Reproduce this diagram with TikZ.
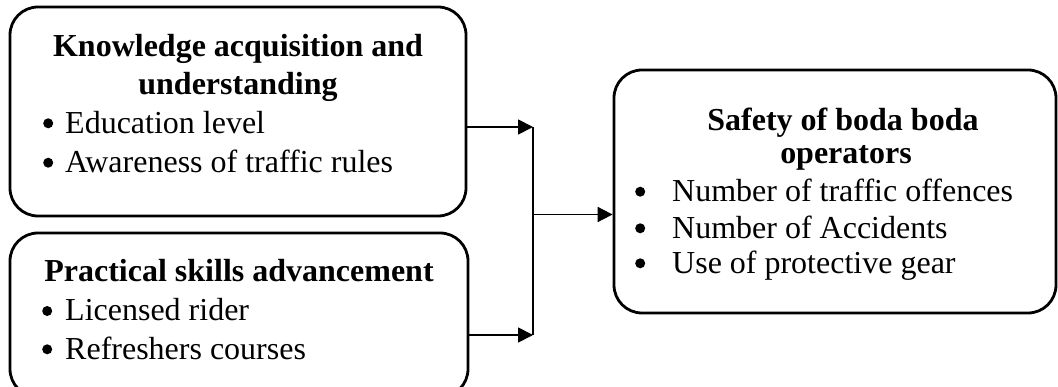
\documentclass[tikz,border=0pt]{standalone}
\usepackage{fontspec}
\setmainfont{Liberation Serif}
\usetikzlibrary{arrows.meta}

\tikzset{
  panel/.style={draw, line width=2.8pt, rounded corners=28pt, inner sep=0pt},
  head/.style={anchor=base, inner sep=0pt, font=\fontsize{32}{38}\selectfont\bfseries},
  item/.style={anchor=base west, inner sep=0pt, font=\fontsize{32}{38}\selectfont},
  link/.style={line width=1.8pt, -{Triangle[length=15pt,width=15pt]}},
  trunk/.style={line width=1.6pt}
}
% round bullet, then a fixed gap before the item text
\newcommand{\dotmark}{\tikz[baseline=0pt]\fill (5pt,10pt) circle[radius=5pt];}
\newcommand{\bulletitem}[2]{\makebox[#1][l]{\dotmark}#2}

\begin{document}
\begin{tikzpicture}[x=1pt, y=-1pt]
\useasboundingbox (0,0) rectangle (1058,387);

% the three boxes
\node[panel, minimum width=456pt, minimum height=209pt] (know) at (238,111.5) {};
\node[panel, minimum width=458pt, minimum height=164pt] (skill) at (239,315) {};
\node[panel, minimum width=442pt, minimum height=243pt] (safe) at (835,191.5) {};

% knowledge box
\node[head] (k1) at (238,56.7) {Knowledge acquisition and};
\node[head] (k2) at (238,95) {understanding};
\node[item] (k3) at (43,133.3) {\bulletitem{22pt}{Education level}};
\node[item] (k4) at (43,172.7) {\bulletitem{22pt}{Awareness of traffic rules}};

% skills box
\node[head] (s1) at (239,281.7) {Practical skills advancement};
\node[item] (s2) at (42,321) {\bulletitem{23pt}{Licensed rider}};
\node[item] (s3) at (42,359.3) {\bulletitem{23pt}{Refreshers courses}};

% safety box
\node[head] (f1) at (843,131) {Safety of boda boda};
\node[head] (f2) at (846,163.3) {operators};
\node[item] (f3) at (635,201.7) {\bulletitem{37pt}{Number of traffic offences}};
\node[item] (f4) at (635,238.3) {\bulletitem{37pt}{Number of Accidents}};
\node[item] (f5) at (635,273.3) {\bulletitem{37pt}{Use of protective gear}};

% connectors
\coordinate (jtop) at (533,127);
\coordinate (jbot) at (533,335);
\coordinate (jmid) at (533,214.5);
\draw[trunk] (jtop) -- (jbot);
\draw[link] (know.east |- jtop) -- (jtop);
\draw[link] (skill.east |- jbot) -- (jbot);
\draw[link] (jmid) -- (safe.west |- jmid);
\end{tikzpicture}
\end{document}
